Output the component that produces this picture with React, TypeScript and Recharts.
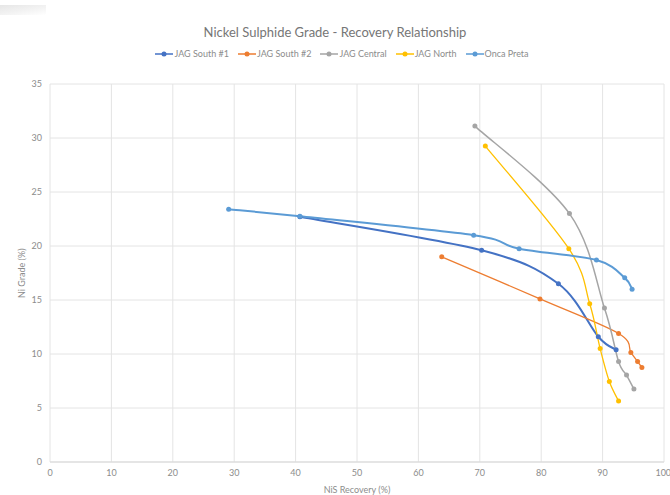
import { CartesianGrid, Legend, Line, LineChart, XAxis, YAxis } from "recharts";

type Pt = { x: number; y: number };

const southOne: Pt[] = [
  { x: 40.7, y: 22.7 },
  { x: 70.3, y: 19.6 },
  { x: 82.8, y: 16.5 },
  { x: 89.3, y: 11.6 },
  { x: 92.2, y: 10.4 },
];
const southTwo: Pt[] = [
  { x: 63.8, y: 19.0 },
  { x: 79.8, y: 15.1 },
  { x: 92.6, y: 11.9 },
  { x: 94.6, y: 10.15 },
  { x: 95.7, y: 9.3 },
  { x: 96.4, y: 8.75 },
];
const central: Pt[] = [
  { x: 69.2, y: 31.1 },
  { x: 84.6, y: 23.0 },
  { x: 90.3, y: 14.25 },
  { x: 92.6, y: 9.3 },
  { x: 93.9, y: 8.05 },
  { x: 95.1, y: 6.75 },
];
const north: Pt[] = [
  { x: 70.9, y: 29.25 },
  { x: 84.5, y: 19.75 },
  { x: 87.9, y: 14.65 },
  { x: 89.6, y: 10.5 },
  { x: 91.1, y: 7.45 },
  { x: 92.6, y: 5.65 },
];
const oncaPreta: Pt[] = [
  { x: 29.1, y: 23.4 },
  { x: 40.7, y: 22.75 },
  { x: 69.0, y: 21.0 },
  { x: 76.4, y: 19.75 },
  { x: 89.0, y: 18.7 },
  { x: 93.6, y: 17.05 },
  { x: 94.8, y: 16.0 },
];

const xTicks = [0, 10, 20, 30, 40, 50, 60, 70, 80, 90, 100];
const yTicks = [0, 5, 10, 15, 20, 25, 30, 35];

const series = [
  { name: "JAG South #1", data: southOne, color: "#4472C4", width: 2 },
  { name: "JAG South #2", data: southTwo, color: "#ED7D31", width: 1.3 },
  { name: "JAG Central", data: central, color: "#A5A5A5", width: 1.5 },
  { name: "JAG North", data: north, color: "#FFC000", width: 1.3 },
  { name: "Onca Preta", data: oncaPreta, color: "#5B9BD5", width: 2 },
];

const font = "Lato, 'Open Sans', sans-serif";
const textColor = "#8c8c8c";

// excel-style smoothed line (catmull-rom through every point)
const excelSmooth = (context: any) => {
  let pts: number[][] = [];
  return {
    areaStart() {},
    areaEnd() {},
    lineStart() {
      pts = [];
    },
    point(x: number, y: number) {
      pts.push([+x, +y]);
    },
    lineEnd() {
      if (!pts.length) return;
      context.moveTo(pts[0][0], pts[0][1]);
      for (let i = 0; i < pts.length - 1; i++) {
        const p0 = pts[i - 1] || pts[i];
        const p1 = pts[i];
        const p2 = pts[i + 1];
        const p3 = pts[i + 2] || p2;
        context.bezierCurveTo(
          p1[0] + (p2[0] - p0[0]) / 6,
          p1[1] + (p2[1] - p0[1]) / 6,
          p2[0] - (p3[0] - p1[0]) / 6,
          p2[1] - (p3[1] - p1[1]) / 6,
          p2[0],
          p2[1]
        );
      }
    },
  };
};

function LegendRow() {
  return (
    <div style={{ display: "flex", justifyContent: "center", gap: 9, fontFamily: font, fontSize: 9, color: textColor }}>
      {series.map((s) => (
        <span key={s.name} style={{ display: "inline-flex", alignItems: "center" }}>
          <svg width={18} height={8} style={{ marginRight: 1 }}>
            <line x1={0} y1={4} x2={18} y2={4} stroke={s.color} strokeWidth={1.5} />
            <circle cx={9} cy={4} r={2.5} fill={s.color} />
          </svg>
          {s.name}
        </span>
      ))}
    </div>
  );
}

export default function App() {
  return (
    <div style={{ position: "fixed", left: 0, top: 0, width: 670, height: 495, background: "#fff" }}>
      <div
        style={{
          position: "absolute",
          left: 0,
          top: 5,
          width: 46,
          height: 10,
          background: "linear-gradient(170deg, #e6e6e6 0%, #f4f4f4 60%, #ffffff 100%)",
        }}
      />
      <div
        style={{
          position: "absolute",
          left: 0,
          top: 24,
          width: 670,
          textAlign: "center",
          fontFamily: font,
          fontSize: 13,
          color: "#767676",
        }}
      >
        Nickel Sulphide Grade - Recovery Relationship
      </div>
      <LineChart width={670} height={495} margin={{ top: 73, right: 6, bottom: 2, left: 20 }}>
        <CartesianGrid stroke="#e4e4e4" />
        <XAxis
          type="number"
          dataKey="x"
          domain={[0, 100]}
          ticks={xTicks}
          allowDuplicatedCategory={false}
          height={31}
          stroke="#d9d9d9"
          tickLine={false}
          tick={{ fontSize: 9, fill: textColor, fontFamily: font }}
          label={{ value: "NiS Recovery (%)", position: "insideBottom", offset: 0, fontSize: 9, fill: textColor, fontFamily: font }}
        />
        <YAxis
          type="number"
          dataKey="y"
          domain={[0, 35]}
          ticks={yTicks}
          width={30}
          axisLine={false}
          tickLine={false}
          tick={{ fontSize: 9, fill: textColor, fontFamily: font }}
          label={{ value: "Ni Grade (%)", angle: -90, position: "insideLeft", offset: 2, fontSize: 9, fill: textColor, fontFamily: font, dy: 25 }}
        />
        <Legend verticalAlign="top" wrapperStyle={{ top: 48 }} content={() => <LegendRow />} />
        {series.map((s) => (
          <Line
            key={s.name}
            name={s.name}
            data={s.data}
            dataKey="y"
            type={excelSmooth as any}
            stroke={s.color}
            strokeWidth={s.width}
            dot={{ r: 2.5, fill: s.color, stroke: s.color, strokeWidth: 0 }}
            activeDot={false}
            isAnimationActive={false}
          />
        ))}
      </LineChart>
    </div>
  );
}
